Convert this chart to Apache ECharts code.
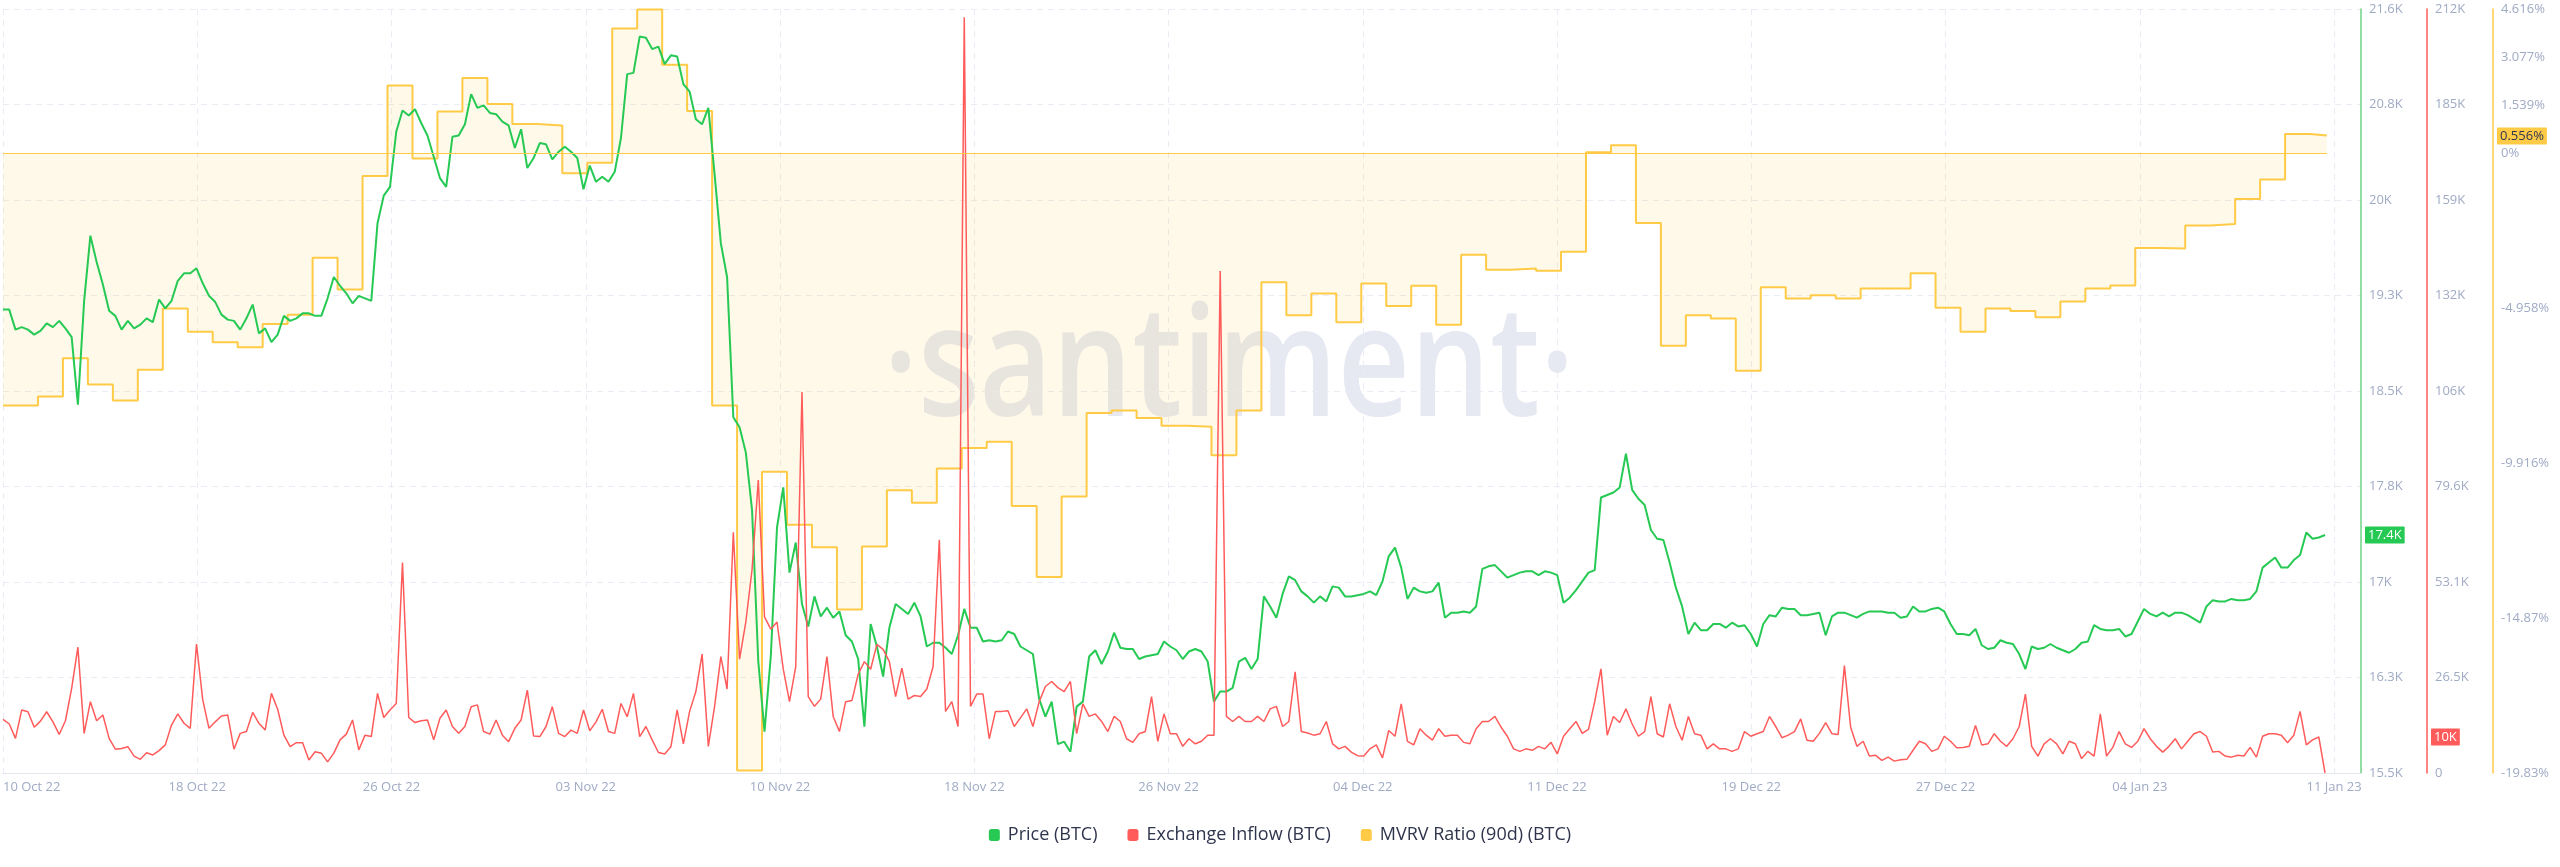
<!DOCTYPE html>
<html><head><meta charset="utf-8">
<script src="https://cdn.jsdelivr.net/npm/echarts@6/dist/echarts.min.js"></script>
<style>html,body{margin:0;padding:0;background:#fff}#chart{width:2560px;height:867px}</style>
</head><body><div id="chart"></div>
<script>
// ---------- data ----------
const xTickLabels = ['10 Oct 22','18 Oct 22','26 Oct 22','03 Nov 22','10 Nov 22','18 Nov 22','26 Nov 22','04 Dec 22','11 Dec 22','19 Dec 22','27 Dec 22','04 Jan 23','11 Jan 23'];
const priceTickLabels = ['15.5K','16.3K','17K','17.8K','18.5K','19.3K','20K','20.8K','21.6K'];
const inflowTickLabels = ['0','26.5K','53.1K','79.6K','106K','132K','159K','185K','212K'];
const mvrvTickValues = [4.616, 3.077, 1.539, 0, -4.958, -9.916, -14.87, -19.83];
const mvrvTickLabels = ['4.616%','3.077%','1.539%','0%','-4.958%','-9.916%','-14.87%','-19.83%'];

// Price (BTC) in USD, one value every 6 hours
const priceBTC = [
19200,19200,19040,19060,19040,19000,19030,19090,19060,19110,
19050,18980,18440,19270,19790,19580,19400,19190,19150,19040,
19110,19050,19080,19130,19100,19280,19210,19270,19430,19490,
19490,19530,19410,19310,19260,19160,19120,19110,19040,19130,
19240,19010,19050,18940,19000,19150,19110,19130,19170,19170,
19150,19150,19290,19460,19390,19330,19250,19310,19290,19270,
19890,20110,20180,20620,20790,20750,20800,20690,20590,20420,
20250,20180,20580,20590,20680,20920,20810,20830,20770,20760,
20700,20670,20490,20640,20330,20410,20530,20520,20400,20460,
20500,20460,20410,20160,20350,20220,20260,20220,20300,20570,
21080,21090,21380,21370,21280,21300,21160,21230,21220,21000,
20940,20720,20680,20810,20280,19730,19460,18340,18260,18060,
17600,16390,15830,16430,17460,17780,17100,17340,16850,16670,
16910,16750,16820,16740,16790,16600,16550,16410,15870,16690,
16510,16270,16660,16850,16810,16770,16860,16750,16510,16540,
16540,16500,16450,16600,16810,16660,16660,16550,16560,16550,
16560,16630,16610,16510,16480,16450,16090,15950,16070,15730,
15750,15670,16030,16070,16430,16480,16370,16470,16620,16500,
16490,16490,16410,16430,16440,16450,16550,16510,16480,16410,
16470,16490,16470,16390,16070,16150,16150,16180,16390,16420,
16330,16410,16910,16830,16740,16930,17070,17040,16950,16910,
16860,16910,16870,16990,16980,16910,16910,16920,16930,16950,
16920,17030,17230,17300,17140,16890,16980,16950,16940,16950,
17020,16740,16780,16780,16790,16780,16830,17130,17150,17160,
17110,17060,17080,17100,17110,17110,17080,17110,17100,17080,
16860,16900,16960,17030,17100,17120,17700,17720,17740,17780,
18050,17760,17690,17640,17440,17370,17360,17180,16980,16830,
16610,16700,16640,16640,16690,16690,16660,16700,16670,16680,
16610,16510,16690,16760,16750,16820,16810,16810,16760,16760,
16770,16780,16600,16750,16780,16780,16760,16740,16770,16790,
16790,16790,16780,16780,16740,16750,16830,16790,16790,16810,
16820,16790,16690,16610,16610,16600,16650,16520,16490,16500,
16560,16540,16530,16450,16330,16510,16490,16500,16530,16500,
16480,16460,16490,16540,16550,16680,16650,16640,16640,16650,
16590,16610,16710,16810,16770,16750,16780,16750,16780,16780,
16760,16730,16700,16830,16880,16870,16870,16890,16880,16880,
16890,16950,17140,17180,17220,17140,17140,17200,17240,17420,
17370,17380,17400];

// Exchange Inflow (BTC), one value every 6 hours
const inflowBTC = [
14900,13600,9600,17500,17000,12700,14400,17000,14200,10700,
14500,23500,34900,11000,19800,14500,16100,9600,6600,6800,
7300,4700,3800,5600,5000,6200,7800,13300,16400,13800,
12400,35800,20300,12400,14200,15800,16100,6600,11000,11500,
16800,13800,11900,22100,17700,10500,7300,8400,8400,3600,
5900,5500,3100,5500,9200,10800,14700,6400,10500,10100,
22100,15400,17500,19300,58400,15400,14000,14500,14700,9200,
15200,17500,12900,11000,12900,18400,18900,11500,10800,14700,
10500,8700,12400,14700,23000,10300,10100,12900,18400,11000,
10100,11900,11000,17500,11700,14200,17700,11500,11000,19300,
15600,22100,10100,12900,9200,5700,5300,7300,17500,8100,
17100,22600,33000,7400,18500,32300,23300,66800,31600,41900,
56400,81300,43300,39900,41900,28800,19800,29500,105700,21200,
18500,20500,32300,15700,11500,19800,20100,27400,30900,28800,
35700,34300,30900,21200,29100,20500,21500,21200,23300,29500,
64700,17100,19800,12900,209700,18500,21900,21900,9500,17100,
17100,17300,12900,15300,17800,12900,19800,24000,25400,23700,
22600,25400,10900,19200,15700,16400,14300,11500,15700,14300,
9500,8500,10900,11500,21200,8800,16400,10900,10900,7400,
9500,8100,8800,10500,10500,139300,15700,14300,15700,14300,
14300,15700,14300,17800,18500,12900,14300,28100,11500,11100,
10500,10900,14300,8100,6700,7400,5800,4800,4700,6700,
7800,4200,11800,10200,19200,8800,7800,12300,10500,9100,
12300,10200,10500,10500,8500,8100,12300,14300,14300,15700,
12700,10200,6700,6000,6700,6300,7400,6700,8500,5300,
10200,12300,14300,11000,12100,19800,28900,10500,15700,14000,
17800,13600,10200,11500,21200,10900,10000,19200,12900,9100,
15700,10900,10500,6700,8100,6700,6700,6000,6700,11500,
10200,10900,11500,15700,12900,9800,10500,11500,15000,9100,
8800,11000,14000,10900,10700,29800,12700,7400,8800,4700,
4900,3500,4400,3300,3700,3800,6300,8800,8100,6000,
6700,10200,8800,7000,7100,7400,13200,7800,8100,10900,
8800,7400,9500,12900,21900,7400,4700,8100,9500,8100,
5300,8800,8100,4000,6000,4700,16400,4700,7100,11500,
8100,7100,8800,12300,9500,7400,5800,7400,9500,6700,
8800,10900,11500,10200,5800,6000,4700,4400,4900,4700,
7100,4400,10200,10900,10900,10500,8400,10500,17100,7800,
9200,10000,0];

// MVRV Ratio (90d) in %, one value per day
const mvrvDaily = [
-8.07,-7.78,-6.56,-7.40,-7.91,-6.93,-4.97,-5.71,-6.05,-6.21,
-5.46,-5.17,-3.34,-4.36,-0.73,2.17,-0.17,1.34,2.41,1.58,
0.94,0.89,-0.64,-0.30,3.99,4.60,2.83,1.35,-8.07,-19.75,
-10.19,-11.89,-12.61,-14.60,-12.58,-10.78,-11.18,-10.09,-9.43,-9.23,
-11.29,-13.56,-10.98,-8.31,-8.23,-8.47,-8.72,-8.75,-9.66,-8.23,
-4.13,-5.18,-4.49,-5.41,-4.17,-4.89,-4.24,-5.49,-3.25,-3.73,
-3.69,-3.76,-3.15,0.03,0.26,-2.23,-6.16,-5.18,-5.29,-6.96,
-4.29,-4.65,-4.54,-4.65,-4.33,-4.33,-3.84,-4.94,-5.71,-4.97,
-5.05,-5.25,-4.74,-4.33,-4.23,-3.03,-3.05,-2.31,-2.26,-1.46,
-0.84,0.62,0.57];

const badgeValues = { price: 17400, inflow: 10000, mvrv: 0.556 };
const badgeLabels = { price: '17.4K', inflow: '10K', mvrv: '0.556%' };

// ---------- scales ----------
const SAMPLE_STEP = 0.25;      // days between price / inflow samples
const DAY_OFFSET = 0.4;        // first daily boundary on the x scale
const MVRV_END = 93.07;        // last timestamp of the daily series
const X_MIN = 0, X_MAX = 94.44, X_INTERVAL = 7.78;
const PRICE_MIN = 15500, PRICE_MAX = 21600, PRICE_INTERVAL = 762.5;
const INFLOW_MIN = 0, INFLOW_MAX = 212000, INFLOW_INTERVAL = 26500;
const MVRV_MIN = -19.83, MVRV_MAX = 4.616;

const GREEN = '#26C953', RED = '#FF5B5B', YELLOW = '#FFCB47';
const LABEL = '#9FAAC4', GRIDC = '#E9ECF4';
const FONT = '"Open Sans", "Noto Sans", sans-serif';

const priceData = priceBTC.map((v, i) => [i * SAMPLE_STEP, v]);
const inflowData = inflowBTC.map((v, i) => [i * SAMPLE_STEP, v]);
const mvrvData = mvrvDaily.map((v, i) => [i === 0 ? 0 : DAY_OFFSET + i, v]);
mvrvData.push([MVRV_END, mvrvDaily[mvrvDaily.length - 1]]);

function badge(color, textColor, distance, text) {
  return {
    show: true, position: 'end', distance: distance, formatter: text,
    backgroundColor: color, color: textColor, padding: [2, 3, 1, 3],
    fontFamily: FONT, fontSize: 13, lineHeight: 14, borderRadius: 1
  };
}
const hiddenLine = { color: 'rgba(0,0,0,0)', width: 1, type: 'solid' };

const chart = echarts.init(document.getElementById('chart'), null, { renderer: 'canvas' });
chart.setOption({
  animation: false,
  backgroundColor: '#ffffff',
  textStyle: { fontFamily: FONT },
  grid: { left: 0, right: 199, top: 9, bottom: 94, containLabel: false },
  graphic: [{
    type: 'text', z: 0, silent: true, x: 1229, y: 372, scaleY: 1.22,
    style: { text: '\u00B7santiment\u00B7', x: 0, y: 0, align: 'center', verticalAlign: 'middle',
      font: '600 126px "Open Sans", sans-serif', fill: '#E6E8F2' }
  }],
  legend: {
    bottom: 18, left: 'center', icon: 'roundRect', itemWidth: 11, itemHeight: 12, itemGap: 30,
    textStyle: { color: '#2F354D', fontSize: 18, fontFamily: FONT, padding: [0, 0, 0, 3] },
    data: ['Price (BTC)', 'Exchange Inflow (BTC)', 'MVRV Ratio (90d) (BTC)']
  },
  xAxis: {
    type: 'value', min: X_MIN, max: X_MAX, interval: X_INTERVAL,
    axisLine: { show: true, onZero: false, lineStyle: { color: '#E3E7F0' } },
    axisTick: { show: false },
    splitLine: { show: true, lineStyle: { color: GRIDC, type: [6, 5] } },
    axisLabel: {
      color: LABEL, fontSize: 13, fontFamily: FONT, margin: 8, alignMinLabel: 'left',
      formatter: v => {
        const k = Math.round(v / X_INTERVAL);
        return Math.abs(v - k * X_INTERVAL) < 0.01 ? (xTickLabels[k] || '') : '';
      }
    }
  },
  yAxis: [
    {
      type: 'value', position: 'right', min: PRICE_MIN, max: PRICE_MAX, interval: PRICE_INTERVAL,
      axisLine: { show: true, onZero: false, lineStyle: { color: '#6FD68A', width: 1.5 } },
      axisTick: { show: false },
      splitLine: { show: true, lineStyle: { color: GRIDC, type: [6, 5] } },
      axisLabel: { color: LABEL, fontSize: 13, fontFamily: FONT, margin: 8,
        formatter: v => priceTickLabels[Math.round((v - PRICE_MIN) / PRICE_INTERVAL)] || '' }
    },
    {
      type: 'value', position: 'right', offset: 66, min: INFLOW_MIN, max: INFLOW_MAX, interval: INFLOW_INTERVAL,
      axisLine: { show: true, onZero: false, lineStyle: { color: RED, width: 1.5 } },
      axisTick: { show: false }, splitLine: { show: false },
      axisLabel: { color: LABEL, fontSize: 13, fontFamily: FONT, margin: 8,
        formatter: v => inflowTickLabels[Math.round((v - INFLOW_MIN) / INFLOW_INTERVAL)] || '' }
    },
    {
      type: 'value', position: 'right', offset: 132, min: MVRV_MIN, max: MVRV_MAX,
      axisLine: { show: true, onZero: false, lineStyle: { color: YELLOW, width: 1.5 } },
      axisTick: { show: false }, splitLine: { show: false },
      axisLabel: { color: LABEL, fontSize: 13, fontFamily: FONT, margin: 8,
        customValues: mvrvTickValues,
        formatter: v => {
          const k = mvrvTickValues.findIndex(t => Math.abs(t - v) < 1e-6);
          return k >= 0 ? mvrvTickLabels[k] : '';
        } }
    }
  ],
  series: [
    {
      name: 'MVRV Ratio (90d) (BTC)', type: 'line', yAxisIndex: 2, step: 'end',
      data: mvrvData, showSymbol: false, symbol: 'none', z: 2,
      lineStyle: { color: YELLOW, width: 2 }, itemStyle: { color: YELLOW },
      areaStyle: { color: 'rgba(255,203,71,0.16)', origin: 'auto' },
      markLine: {
        silent: true, symbol: 'none', animation: false, precision: 3,
        data: [
          [{ coord: [X_MIN, 0], lineStyle: { color: YELLOW, width: 1, type: 'solid' }, label: { show: false } },
           { coord: [MVRV_END, 0] }],
          { yAxis: badgeValues.mvrv, lineStyle: hiddenLine, label: badge(YELLOW, '#2F354D', 136, badgeLabels.mvrv) }
        ]
      }
    },
    {
      name: 'Price (BTC)', type: 'line', yAxisIndex: 0,
      data: priceData, showSymbol: false, symbol: 'none', z: 3,
      lineStyle: { color: GREEN, width: 2 }, itemStyle: { color: GREEN },
      markLine: {
        silent: true, symbol: 'none', animation: false,
        data: [{ yAxis: badgeValues.price, lineStyle: hiddenLine, label: badge(GREEN, '#ffffff', 4, badgeLabels.price) }]
      }
    },
    {
      name: 'Exchange Inflow (BTC)', type: 'line', yAxisIndex: 1,
      data: inflowData, showSymbol: false, symbol: 'none', z: 4,
      lineStyle: { color: RED, width: 1.5 }, itemStyle: { color: RED },
      markLine: {
        silent: true, symbol: 'none', animation: false,
        data: [{ yAxis: badgeValues.inflow, lineStyle: hiddenLine, label: badge(RED, '#ffffff', 70, badgeLabels.inflow) }]
      }
    }
  ]
});
</script>
</body></html>
